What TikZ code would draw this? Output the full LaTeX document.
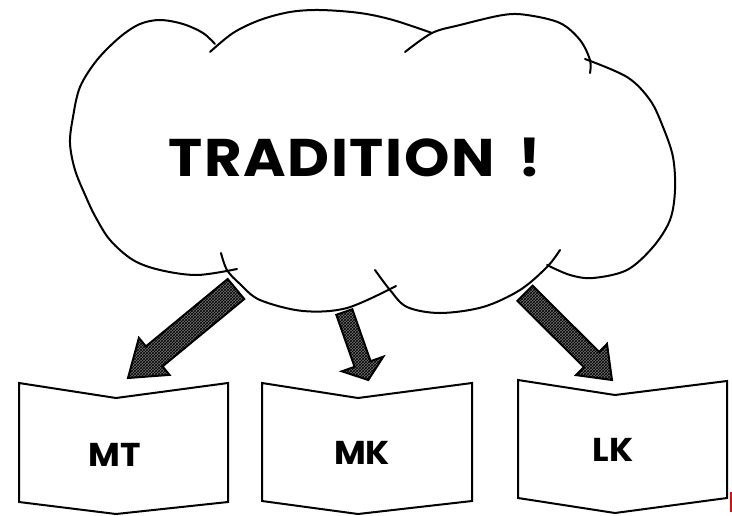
\documentclass[tikz,border=0pt]{standalone}
\usepackage{fontspec}
\setmainfont{Poppins}
\usetikzlibrary{patterns}
\begin{document}
\begin{tikzpicture}[x=1pt,y=-1pt,
  lobe/.style={line width=2pt, line cap=round, line join=round},
  blockarrow/.style={draw, line width=2pt, line join=miter, fill=black!55, postaction={pattern=crosshatch, pattern color=black}},
  bookbox/.style={draw, line width=2pt, line join=miter},
  boxlabel/.style={font=\bfseries\fontsize{33}{33}\selectfont\addfontfeature{FakeStretch=1.05}, inner sep=0pt},
  title/.style={font=\bfseries\fontsize{53}{53}\selectfont, inner sep=0pt},
]
\useasboundingbox (0,0) rectangle (732,515);

% cloud lobes
\draw[lobe] plot[smooth, tension=0.55] coordinates {(215,44) (203,33) (183,24) (160,20) (140,24) (120,37) (97,60) (80,87) (73,117) (70,143) (75,170) (86,197) (95,216) (110,240) (133,260) (160,270) (197,275) (237,269)};
\draw[lobe] plot[smooth, tension=0.55] coordinates {(210,52) (233,33) (260,20) (290,12) (320,10) (360,13) (393,20) (432,33)};
\draw[lobe] plot[smooth, tension=0.55] coordinates {(405,52) (432,33) (460,25) (503,15) (527,15) (560,23) (580,40) (590,60) (590,73)};
\draw[lobe] plot[smooth, tension=0.55] coordinates {(585,59) (627,77) (650,100) (663,127) (673,157) (675,190) (670,220) (653,247) (627,270) (593,278) (570,275) (547,265)};
\draw[lobe] plot[smooth, tension=0.55] coordinates {(560,250) (547,267) (520,290) (483,307) (440,313) (407,307) (390,290) (375,270)};
\draw[lobe] plot[smooth, tension=0.55] coordinates {(221,253) (227,270) (240,284) (260,300) (303,311) (347,308) (396,286)};

\node[title] (tradition) at (355,157) {\addfontfeature{FakeStretch=1.09,LetterSpace=3}TRADITION\hspace{24pt}!};

% block arrows
\draw[blockarrow] (227.7,279.0) -- (145.9,346.4) -- (138.9,337.9) -- (128,378) -- (169.5,374.9) -- (162.5,366.4) -- (244.3,299.0) -- cycle;
\draw[blockarrow] (336.3,314.8) -- (354.6,366.8) -- (341.9,371.3) -- (368.3,380) -- (383.3,356.7) -- (370.6,361.2) -- (352.3,309.2) -- cycle;
\draw[blockarrow] (532.6,285.7) -- (599.1,351.9) -- (607.0,343.9) -- (612,380) -- (576.0,375.1) -- (583.9,367.1) -- (517.4,300.9) -- cycle;

% boxes
\draw[bookbox] (19,383) -- (116,398) -- (228,383) -- (228,502) -- (116,514) -- (19,502) -- cycle;
\node[boxlabel] (mt) at (115,455) {MT};
\draw[bookbox] (262,383) -- (358,398) -- (472,383) -- (472,501) -- (358,514) -- (262,501) -- cycle;
\node[boxlabel] (mk) at (362,453) {MK};
\draw[bookbox] (518,380) -- (615,395) -- (727,381) -- (727,498) -- (615,513) -- (518,498) -- cycle;
\node[boxlabel] (lk) at (613,450) {LK};

\draw[red, line width=2pt] (730.5,492) -- (730.5,512);
\end{tikzpicture}
\end{document}
